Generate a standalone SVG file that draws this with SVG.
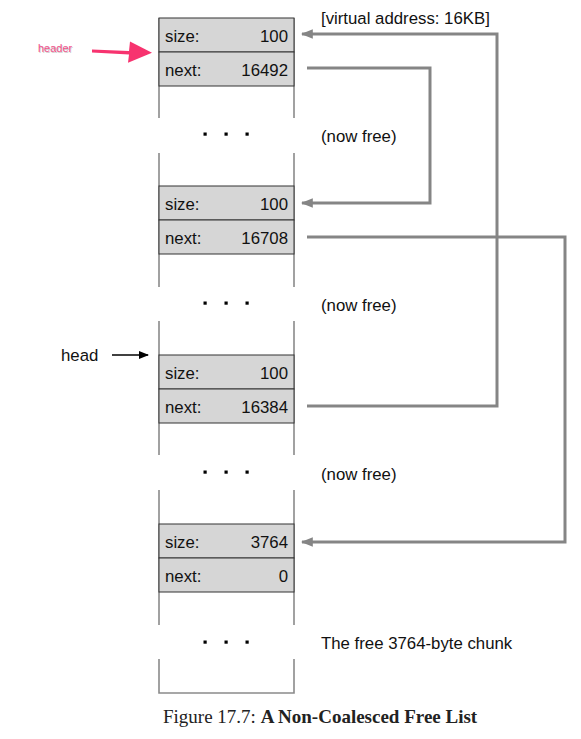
<svg xmlns="http://www.w3.org/2000/svg" width="581" height="739" viewBox="0 0 581 739">
<defs>
<style>
.t{font-family:"Liberation Sans",Arial,sans-serif;font-size:16.8px;fill:#111}
.r{text-anchor:end}
.row{fill:#d6d6d6;stroke:#333;stroke-width:1}
.side{stroke:#8a8a8a;stroke-width:1.6;fill:none}
.conn{stroke:#858585;stroke-width:3;fill:none}
.dot{fill:#000}
</style>
<marker id="ga" viewBox="0 0 10 10" refX="9" refY="5" markerWidth="4" markerHeight="4" orient="auto" markerUnits="strokeWidth">
<path d="M0,1 L10,5 L0,9 z" fill="#858585"/>
</marker>
<marker id="ba" viewBox="0 0 10 10" refX="9" refY="5" markerWidth="7" markerHeight="7" orient="auto" markerUnits="strokeWidth">
<path d="M0,1 L10,5 L0,9 z" fill="#000"/>
</marker>
</defs>
<rect width="581" height="739" fill="#fff"/>

<g id="memory-column">
<path class="side" d="M159,18 V118 M294,18 V118 M159,153 V287 M294,153 V287 M159,321 V455 M294,321 V455 M159,490 V625 M294,490 V625 M159,659 V693 H294 V659"/>
</g>

<g id="chunk1">
<rect class="row" x="159" y="18" width="135" height="34"/>
<rect class="row" x="159" y="52" width="135" height="34"/>
<text class="t" x="165" y="42">size:</text><text class="t r" x="288" y="42">100</text>
<text class="t" x="165" y="76">next:</text><text class="t r" x="288" y="76">16492</text>
<rect class="dot" x="203.5" y="132.5" width="3.2" height="3.2"/><rect class="dot" x="224.5" y="132.5" width="3.2" height="3.2"/><rect class="dot" x="245.5" y="132.5" width="3.2" height="3.2"/>
<text class="t" x="321" y="142">(now free)</text>
</g>

<g id="chunk2">
<rect class="row" x="159" y="186" width="135" height="34"/>
<rect class="row" x="159" y="220" width="135" height="34"/>
<text class="t" x="165" y="210">size:</text><text class="t r" x="288" y="210">100</text>
<text class="t" x="165" y="244">next:</text><text class="t r" x="288" y="244">16708</text>
<rect class="dot" x="203.5" y="301.5" width="3.2" height="3.2"/><rect class="dot" x="224.5" y="301.5" width="3.2" height="3.2"/><rect class="dot" x="245.5" y="301.5" width="3.2" height="3.2"/>
<text class="t" x="321" y="311">(now free)</text>
</g>

<g id="chunk3">
<rect class="row" x="159" y="355" width="135" height="34"/>
<rect class="row" x="159" y="389" width="135" height="34"/>
<text class="t" x="165" y="379">size:</text><text class="t r" x="288" y="379">100</text>
<text class="t" x="165" y="413">next:</text><text class="t r" x="288" y="413">16384</text>
<rect class="dot" x="203.5" y="470.5" width="3.2" height="3.2"/><rect class="dot" x="224.5" y="470.5" width="3.2" height="3.2"/><rect class="dot" x="245.5" y="470.5" width="3.2" height="3.2"/>
<text class="t" x="321" y="480">(now free)</text>
</g>

<g id="chunk4">
<rect class="row" x="159" y="524" width="135" height="34"/>
<rect class="row" x="159" y="558" width="135" height="34"/>
<text class="t" x="165" y="548">size:</text><text class="t r" x="288" y="548">3764</text>
<text class="t" x="165" y="582">next:</text><text class="t r" x="288" y="582">0</text>
<rect class="dot" x="203.5" y="640.5" width="3.2" height="3.2"/><rect class="dot" x="224.5" y="640.5" width="3.2" height="3.2"/><rect class="dot" x="245.5" y="640.5" width="3.2" height="3.2"/>
<text class="t" x="321" y="649">The free 3764-byte chunk</text>
</g>

<g id="vaddr-label">
<text class="t" x="321" y="24">[virtual address: 16KB]</text>
</g>

<g id="head-label">
<text class="t" x="61" y="361">head</text>
<line x1="112" y1="355" x2="148" y2="355" stroke="#000" stroke-width="1.5" marker-end="url(#ba)"/>
</g>

<g id="header-label">
<text x="38" y="52" font-family="'Liberation Sans',Arial,sans-serif" font-size="11" fill="#ccc" transform="translate(0.7,1.2)">header</text>
<text x="38" y="52" font-family="'Liberation Sans',Arial,sans-serif" font-size="11" fill="#f0508a">header</text>
<path d="M92,49.5 L129,51 L130,41.5 L152,52.7 L128,62.7 L129,54.5 L92,52.5 z" fill="#f7336f"/>
</g>

<g id="connectors">
<path class="conn" d="M307,68 H430 V203 H302" marker-end="url(#ga)"/>
<path class="conn" d="M307,237 H565 V542 H302" marker-end="url(#ga)"/>
<path class="conn" d="M307,406 H497 V34 H302" marker-end="url(#ga)"/>
</g>

<g id="caption">
<text x="163" y="723" font-family="'Liberation Serif','Times New Roman',serif" font-size="19" fill="#222">Figure 17.7: <tspan font-weight="bold">A Non-Coalesced Free List</tspan></text>
</g>
</svg>
